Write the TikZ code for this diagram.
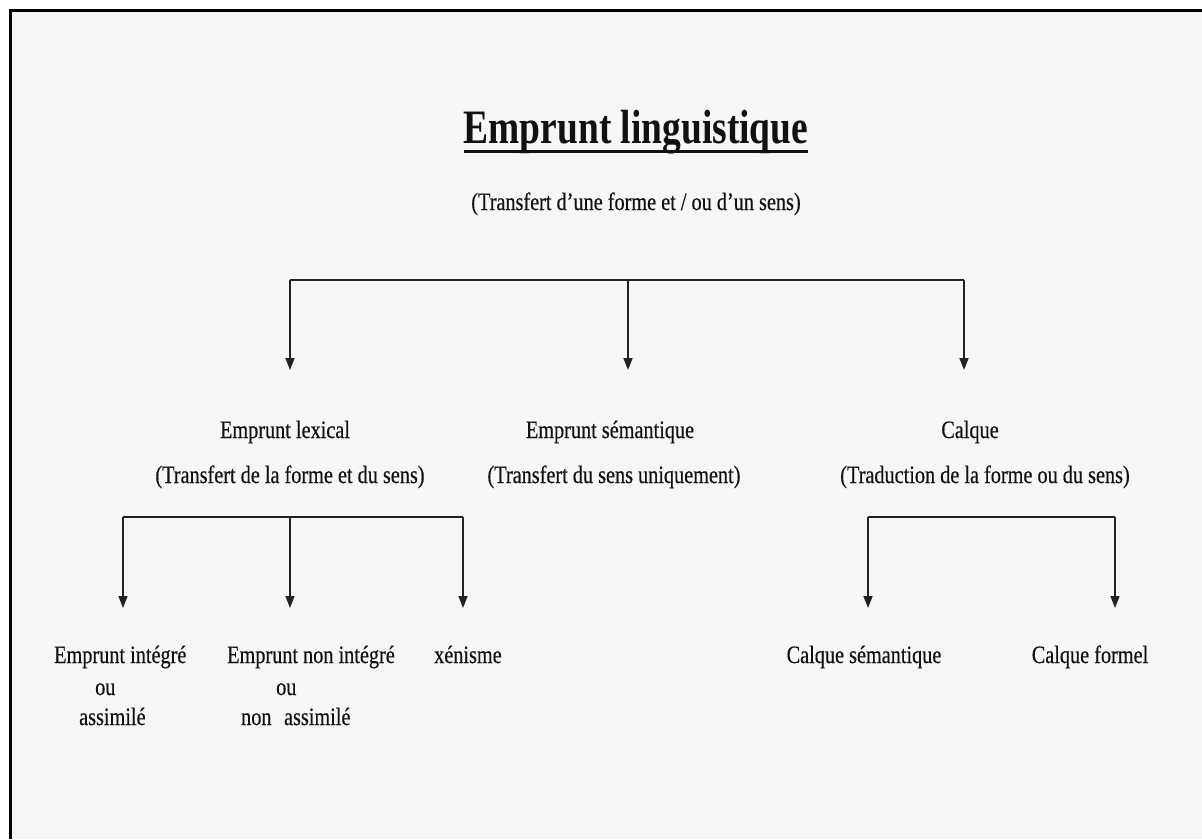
\documentclass[tikz,border=0pt]{standalone}
\usepackage{fontspec}
\setmainfont{Liberation Serif}[FakeStretch=0.81,FakeBold=0.4]
\newfontfamily\titlefont{Liberation Serif}[FakeStretch=0.78]
\usetikzlibrary{arrows.meta}
\definecolor{bg}{HTML}{F6F6F6}
\definecolor{ink}{HTML}{111111}
\definecolor{linec}{HTML}{222222}
\begin{document}
\begin{tikzpicture}[x=1pt,y=-1pt,
  lbl/.style={anchor=base,inner sep=0pt,text=ink,font=\fontsize{25}{31}\selectfont},
  lblw/.style={anchor=base west,inner sep=0pt,text=ink,font=\fontsize{25}{31}\selectfont},
  conn/.style={draw=linec,line width=1.6pt},
  arr/.style={conn,-{Triangle[length=12pt,width=9pt]}}]
\useasboundingbox (0,0) rectangle (1202,839);
\fill[white] (0,0) rectangle (1202,839);
\fill[bg] (10,10) rectangle (1202,839);
\draw[line width=3pt,black] (10.5,839) -- (10.5,10) -- (1202,10);

% title
\node[anchor=base,inner sep=0pt,text=ink,font=\titlefont\bfseries\fontsize{48}{50}\selectfont] (title) at (636,143) {Emprunt linguistique};
\draw[line width=3pt,ink] ([yshift=-8.5pt]title.base west) -- ([yshift=-8.5pt]title.base east);
\node[lbl] (sub) at (636,210) {(Transfert d’une forme et / ou d’un sens)};

% level 1 connectors
\coordinate (b1) at (290,280);
\coordinate (b2) at (628,280);
\coordinate (b3) at (964,280);
\coordinate (t1) at (290,370);
\coordinate (t2) at (628,370);
\coordinate (t3) at (964,370);
\draw[conn] (b1) -- (b3);
\draw[arr] (b1) -- (t1);
\draw[arr] (b2) -- (t2);
\draw[arr] (b3) -- (t3);

% level 2 labels
\node[lbl] (lex) at (285,438) {Emprunt lexical};
\node[lbl] (lexd) at (290,483) {(Transfert de la forme et du sens)};
\node[lbl] (sem) at (610,438) {Emprunt sémantique};
\node[lbl] (semd) at (614,483) {(Transfert du sens uniquement)};
\node[lbl] (cal) at (970,438) {Calque};
\node[lbl] (cald) at (985,483) {(Traduction de la forme ou du sens)};

% level 2 connectors, left
\coordinate (c1) at (123,517);
\coordinate (c2) at (290,517);
\coordinate (c3) at (463,517);
\coordinate (u1) at (123,608);
\coordinate (u2) at (290,608);
\coordinate (u3) at (463,608);
\draw[conn] (c1) -- (c3);
\draw[arr] (c1) -- (u1);
\draw[arr] (c2) -- (u2);
\draw[arr] (c3) -- (u3);

% level 2 connectors, right
\coordinate (d1) at (868,517);
\coordinate (d2) at (1115,517);
\coordinate (v1) at (868,608);
\coordinate (v2) at (1115,608);
\draw[conn] (d1) -- (d2);
\draw[arr] (d1) -- (v1);
\draw[arr] (d2) -- (v2);

% level 3 labels
\node[lblw] (ei1) at (54,663) {Emprunt intégré};
\node[lblw] (ei2) at (95,695) {ou};
\node[lblw] (ei3) at (79,725) {assimilé};
\node[lblw] (en1) at (227,663) {Emprunt non intégré};
\node[lblw] (en2) at (276,695) {ou};
\node[lblw] (en3) at (241,725) {non\hspace{0.5em}assimilé};
\node[lblw] (xen) at (434,663) {xénisme};
\node[lbl] (cs) at (864,663) {Calque sémantique};
\node[lbl] (cf) at (1090,663) {Calque formel};
\end{tikzpicture}
\end{document}
